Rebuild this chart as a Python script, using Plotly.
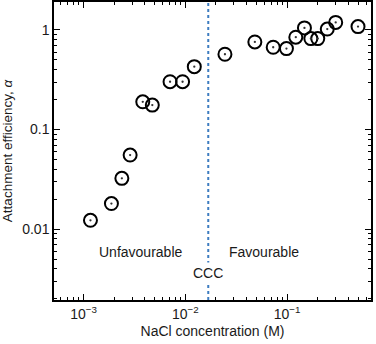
import math
import plotly.graph_objects as go

nacl = [0.00117, 0.00188, 0.00238, 0.00287, 0.00382, 0.00474, 0.00708, 0.0094, 0.01225,
        0.0245, 0.0482, 0.073, 0.0985, 0.1217, 0.148, 0.171, 0.200, 0.248, 0.300, 0.497]
alpha = [0.0123, 0.0181, 0.0324, 0.0555, 0.19, 0.176, 0.302, 0.302, 0.428,
         0.57, 0.757, 0.67, 0.649, 0.845, 1.047, 0.818, 0.818, 1.02, 1.19, 1.08]
ccc = 0.0168
x_tickvals = [0.001, 0.01, 0.1]
x_ticktext = ["10<sup>\u22123</sup>", "10<sup>\u22122</sup>", "10<sup>\u22121</sup>"]
y_tickvals = [0.01, 0.1, 1]
y_ticktext = ["0.01", "0.1", "1"]
labels = ["Unfavourable", "Favourable", "CCC"]
label_x = [0.00363, 0.0596, ccc]
label_y = [0.0059, 0.0059, 0.0036]

x_range = [-3.29, -0.176]
y_range = [-2.71, 0.28]

x_minor = [m * 10.0 ** e for e in (-4, -3, -2, -1) for m in range(2, 10)]
y_minor = [m * 10.0 ** e for e in (-3, -2, -1, 0) for m in range(2, 10)]

font = "Liberation Sans, Arial, sans-serif"
tcol = "#1a1a1a"

fig = go.Figure()
fig.add_trace(go.Scatter(x=nacl, y=alpha, mode="markers",
                         marker=dict(symbol="circle-open", size=13, color="black",
                                     line=dict(width=2, color="black")),
                         showlegend=False, hoverinfo="skip"))
fig.add_trace(go.Scatter(x=nacl, y=alpha, mode="markers",
                         marker=dict(symbol="circle", size=2.3, color="#333"),
                         showlegend=False))
# invisible trace anchoring the minor-tick overlay axes
fig.add_trace(go.Scatter(x=[nacl[0]], y=[alpha[0]], xaxis="x2", yaxis="y2", mode="markers",
                         marker=dict(opacity=0), showlegend=False, hoverinfo="skip"))

fig.add_shape(type="line", x0=ccc, x1=ccc, xref="x", y0=0, y1=1, yref="paper",
              line=dict(color="#3d7cc0", width=2, dash="3px,3px"), layer="below")

for t, xv, yv in zip(labels, label_x, label_y):
    fig.add_annotation(x=math.log10(xv), y=math.log10(yv), xref="x", yref="y", text=t,
                       showarrow=False, font=dict(size=14, color=tcol, family=font),
                       bgcolor="white" if t == "CCC" else "rgba(0,0,0,0)", borderpad=2)

major = dict(type="log", showline=True, linecolor="black", linewidth=1.5,
             mirror="ticks", ticks="inside", ticklen=6, tickwidth=1.2,
             tickcolor="black", showgrid=False, zeroline=False, automargin=False,
             tickfont=dict(size=14, color=tcol, family=font))
minor = dict(type="log", showline=False, mirror="ticks", ticks="inside", ticklen=3,
             tickwidth=1, tickcolor="black", showgrid=False, zeroline=False,
             showticklabels=False, automargin=False)

fig.update_layout(
    width=376, height=344, margin=dict(l=54, r=5, t=2, b=44),
    plot_bgcolor="white", paper_bgcolor="white",
    xaxis=dict(range=x_range, tickvals=x_tickvals, ticktext=x_ticktext,
               title=dict(text="NaCl concentration (M)", font=dict(size=14, color=tcol, family=font),
                          standoff=6),
               **major),
    yaxis=dict(range=y_range, tickvals=y_tickvals, ticktext=y_ticktext,
               title=dict(text="Attachment efficiency, <i>\u03b1</i>", font=dict(size=13.5, color=tcol, family=font),
                          standoff=8),
               **major),
    xaxis2=dict(range=x_range, tickvals=x_minor, overlaying="x", anchor="y2", **minor),
    yaxis2=dict(range=y_range, tickvals=y_minor, overlaying="y", anchor="x2", **minor),
)

fig.write_html("out.html", config={"displayModeBar": False},
               post_script="document.body.style.margin='0';")
